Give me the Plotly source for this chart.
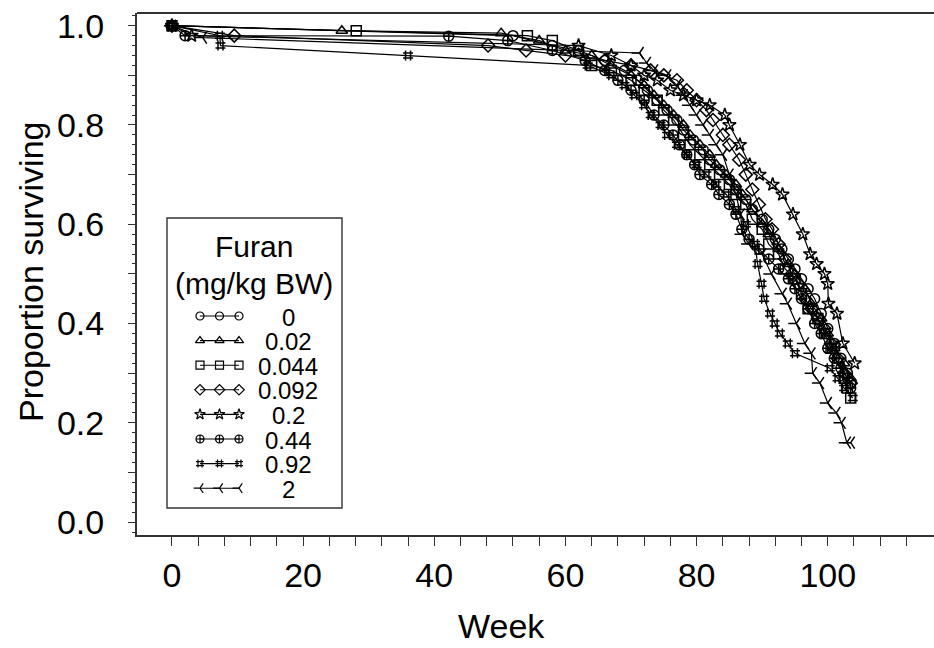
import plotly.graph_objects as go

# ---------------- data ----------------
doses = ["0", "0.02", "0.044", "0.092", "0.2", "0.44", "0.92", "2"]

weeks_0 = [0, 52, 58, 62, 66, 69, 71, 72.5, 74, 75.5, 77, 78, 79.5, 81, 82, 83.5, 85, 86, 87.5,
           88.5, 90, 91, 92, 93, 94, 95, 96, 97, 98, 99, 100, 101, 102, 103, 103.5]
surv_0 = [1.0, 0.98, 0.96, 0.95, 0.93, 0.91, 0.89, 0.87, 0.85, 0.83, 0.81, 0.79, 0.77, 0.75, 0.73,
          0.71, 0.69, 0.67, 0.65, 0.63, 0.61, 0.59, 0.57, 0.55, 0.53, 0.51, 0.49, 0.47, 0.45, 0.42,
          0.39, 0.36, 0.33, 0.30, 0.28]

weeks_002 = [0, 25.9, 50.2, 56, 60, 64, 67, 70, 72, 73.5, 75, 76.5, 78, 79, 80.5, 82, 83, 84.5, 86,
             87, 88.5, 90, 91, 92.5, 94, 95, 96.5, 97.5, 99, 100, 101, 102.5, 103.5]
surv_002 = [1.0, 0.99, 0.985, 0.97, 0.95, 0.94, 0.92, 0.90, 0.88, 0.86, 0.84, 0.82, 0.80, 0.78, 0.76,
            0.74, 0.72, 0.70, 0.68, 0.66, 0.63, 0.60, 0.58, 0.55, 0.52, 0.50, 0.47, 0.44, 0.41, 0.38,
            0.35, 0.32, 0.29]

weeks_0044 = [0, 28.1, 54.2, 58, 62, 64, 67, 70, 72, 74, 75, 76.5, 78, 79, 80.5, 82, 83.5, 85, 86,
              87.5, 88.5, 90, 91, 92.5, 93.5, 95, 96, 97, 98.5, 99.5, 100.5, 101.5, 102.5, 103, 103.5]
surv_0044 = [1.0, 0.99, 0.98, 0.97, 0.95, 0.92, 0.91, 0.89, 0.87, 0.85, 0.83, 0.81, 0.78, 0.76, 0.74,
             0.72, 0.70, 0.68, 0.66, 0.64, 0.61, 0.59, 0.56, 0.54, 0.51, 0.49, 0.46, 0.43, 0.41, 0.38,
             0.35, 0.32, 0.29, 0.27, 0.25]

weeks_0092 = [0, 9.5, 48.2, 54, 60, 66, 70, 73, 75, 77, 78.5, 80, 81.5, 82.5, 84, 85, 86.5, 87.5,
              88.5, 89.5, 90.5, 91.5, 92.5, 93.5, 94.5, 95.5, 96.5, 97.5, 98.5, 99.5, 100.5, 101.5,
              102.5, 103.5]
surv_0092 = [1.0, 0.98, 0.96, 0.95, 0.94, 0.93, 0.92, 0.91, 0.90, 0.89, 0.87, 0.85, 0.83, 0.81, 0.78,
             0.76, 0.73, 0.70, 0.67, 0.64, 0.61, 0.59, 0.56, 0.53, 0.50, 0.48, 0.45, 0.43, 0.41, 0.39,
             0.36, 0.33, 0.30, 0.28]

weeks_02 = [0, 3, 62, 67, 70, 72, 74, 76, 78, 80, 82, 84.3, 85, 86.6, 88.1, 89.6, 91.6, 93.1, 94.7,
            96.2, 97.3, 98.3, 99.5, 100, 100.1, 101.4, 102.3, 104.1]
surv_02 = [1.0, 0.98, 0.96, 0.94, 0.92, 0.90, 0.89, 0.87, 0.86, 0.85, 0.84, 0.82, 0.80, 0.76, 0.72,
           0.70, 0.68, 0.66, 0.62, 0.58, 0.54, 0.52, 0.50, 0.48, 0.44, 0.42, 0.36, 0.32]

weeks_044 = [0, 2, 42.2, 51.2, 58, 63, 66, 68, 70, 72, 73.5, 75, 76.4, 77.4, 78.5, 79.7, 80.5, 82.3,
             83.4, 85, 86, 86.9, 88, 89.5, 91, 92.5, 94, 95, 96, 97, 98, 99, 100, 101, 102, 103, 103.5]
surv_044 = [1.0, 0.98, 0.979, 0.97, 0.95, 0.93, 0.91, 0.89, 0.87, 0.85, 0.82, 0.80, 0.78, 0.76, 0.74,
            0.72, 0.70, 0.68, 0.66, 0.64, 0.62, 0.59, 0.57, 0.55, 0.53, 0.51, 0.49, 0.47, 0.45, 0.43,
            0.40, 0.38, 0.35, 0.33, 0.31, 0.29, 0.27]

weeks_092 = [0, 7.3, 7.4, 36, 63.4, 67, 69, 70.5, 72, 73, 74.5, 75.5, 77, 78.5, 80, 81.5, 83, 84.5,
             86, 87.5, 88.9, 89.3, 89.9, 90.3, 91.2, 91.9, 92.7, 93.9, 95, 100.3, 101.5, 102.5, 103.8]
surv_092 = [1.0, 0.98, 0.96, 0.94, 0.92, 0.90, 0.88, 0.86, 0.84, 0.82, 0.80, 0.78, 0.76, 0.74, 0.72,
            0.70, 0.68, 0.66, 0.63, 0.60, 0.56, 0.52, 0.48, 0.45, 0.42, 0.40, 0.38, 0.36, 0.34, 0.31,
            0.29, 0.27, 0.25]

weeks_2 = [0, 4.7, 71.3, 72.4, 73.5, 75.5, 77, 78, 79, 80, 81, 82, 83, 84, 85, 86, 86.7, 87, 88,
           90, 91.4, 93.1, 93.9, 95.2, 96.5, 97.5, 97.7, 98.8, 100, 101.3, 102.1, 102.9, 103.5]
surv_2 = [1.0, 0.976, 0.945, 0.925, 0.91, 0.90, 0.88, 0.86, 0.84, 0.82, 0.80, 0.78, 0.76, 0.74, 0.70,
          0.66, 0.62, 0.58, 0.56, 0.54, 0.50, 0.46, 0.44, 0.40, 0.36, 0.34, 0.30, 0.28, 0.24, 0.22,
          0.20, 0.16, 0.16]

all_weeks = [weeks_0, weeks_002, weeks_0044, weeks_0092, weeks_02, weeks_044, weeks_092, weeks_2]
all_surv = [surv_0, surv_002, surv_0044, surv_0092, surv_02, surv_044, surv_092, surv_2]

x_tick_vals = list(range(0, 113, 4))
x_tick_text = [str(v) if v % 20 == 0 else "" for v in x_tick_vals]
y_tick_vals = [round(i * 0.1, 1) for i in range(11)]
y_tick_text = [f"{v:.1f}" if round(v * 10) % 2 == 0 else "" for v in y_tick_vals]

# ---------------- styling ----------------
symbols = ["circle-open", "triangle-up-open", "square-open", "diamond-open",
           "star-open", "circle-cross-open", "hash-open", "y-left-open"]
FONT = "Liberation Sans, Arial, Helvetica, sans-serif"
AX = "#333333"
W, H = 934, 648
L, R, T, B = 137, 0, 13, 113

fig = go.Figure()
for wk, sv, sym, name in zip(all_weeks, all_surv, symbols, doses):
    fig.add_trace(go.Scatter(
        x=wk, y=sv, mode="lines+markers", name=name, showlegend=False,
        line=dict(color="black", width=1.2),
        marker=dict(symbol=sym, size=10, color="black", line=dict(color="black", width=1.5)),
    ))

# ---- custom legend (pixel coordinates on a hidden overlay axis) ----
leg_x0, leg_x1, leg_y0, leg_y1 = 167, 342, 218, 508
row_y0, row_dy = 316, 24.6
sample_x = [200, 219.5, 239]
for i, (sym, name) in enumerate(zip(symbols, doses)):
    yy = row_y0 + i * row_dy
    fig.add_trace(go.Scatter(
        x=sample_x, y=[yy] * 3, xaxis="x2", yaxis="y2", mode="lines+markers", showlegend=False,
        line=dict(color="black", width=1.1), hoverinfo="skip",
        marker=dict(symbol=sym, size=8, color="black", line=dict(color="black", width=1.2)),
    ))


def px_x(p):
    return (p - L) / (W - L - R)


def px_y(p):
    return (H - B - p) / (H - T - B)


annotations = [
    dict(text="Furan", x=px_x(254), y=px_y(246), xref="paper", yref="paper",
         showarrow=False, xanchor="center", yanchor="middle", font=dict(size=30, family=FONT, color="black")),
    dict(text="(mg/kg BW)", x=px_x(254), y=px_y(284), xref="paper", yref="paper",
         showarrow=False, xanchor="center", yanchor="middle", font=dict(size=30, family=FONT, color="black")),
    dict(text="Week", x=px_x(501), y=px_y(626), xref="paper", yref="paper",
         showarrow=False, xanchor="center", yanchor="middle", font=dict(size=34, family=FONT, color="black")),
    dict(text="Proportion surviving", x=px_x(31), y=px_y(272), xref="paper", yref="paper", textangle=-90,
         showarrow=False, xanchor="center", yanchor="middle", font=dict(size=34, family=FONT, color="black")),
]
for i, name in enumerate(doses):
    yy = row_y0 + i * row_dy
    annotations.append(dict(text=name, x=px_x(288), y=px_y(yy + 1), xref="paper", yref="paper",
                            showarrow=False, xanchor="center", yanchor="middle",
                            font=dict(size=24, family=FONT, color="black")))

shapes = [
    dict(type="rect", xref="paper", yref="paper", x0=px_x(leg_x0), x1=px_x(leg_x1),
         y0=px_y(leg_y1), y1=px_y(leg_y0), line=dict(color=AX, width=1.4), fillcolor="white", layer="below"),
    dict(type="line", xref="paper", yref="paper", x0=0, x1=1, y0=1, y1=1, line=dict(color=AX, width=2)),
]

fig.update_layout(
    width=W, height=H, margin=dict(l=L, r=R, t=T, b=B, pad=0),
    paper_bgcolor="white", plot_bgcolor="white",
    font=dict(family=FONT, color="black"),
    annotations=annotations, shapes=shapes,
    xaxis=dict(range=[-5.33, 116.2], tickvals=x_tick_vals, ticktext=x_tick_text,
               ticks="outside", ticklen=9, tickwidth=1.3, tickcolor=AX,
               showline=True, linecolor=AX, linewidth=2, showgrid=False, zeroline=False,
               tickfont=dict(size=34, family=FONT, color="black"), ticklabelstandoff=0),
    yaxis=dict(range=[-0.026, 1.0256], tickvals=y_tick_vals, ticktext=y_tick_text,
               ticks="outside", ticklen=7, tickwidth=1.3, tickcolor=AX,
               minor=dict(dtick=0.02, ticks="outside", ticklen=3, tickcolor=AX, tickwidth=1),
               showline=True, linecolor=AX, linewidth=2, showgrid=False, zeroline=False,
               tickfont=dict(size=34, family=FONT, color="black"), ticklabelstandoff=17),
    xaxis2=dict(range=[L, W - R], overlaying="x", anchor="y2", visible=False, fixedrange=True),
    yaxis2=dict(range=[H - B, T], overlaying="y", anchor="x2", visible=False, fixedrange=True),
)

fig.write_html("out.html", config={"displayModeBar": False},
               post_script="document.body.style.margin='0';document.body.style.overflow='hidden';")
